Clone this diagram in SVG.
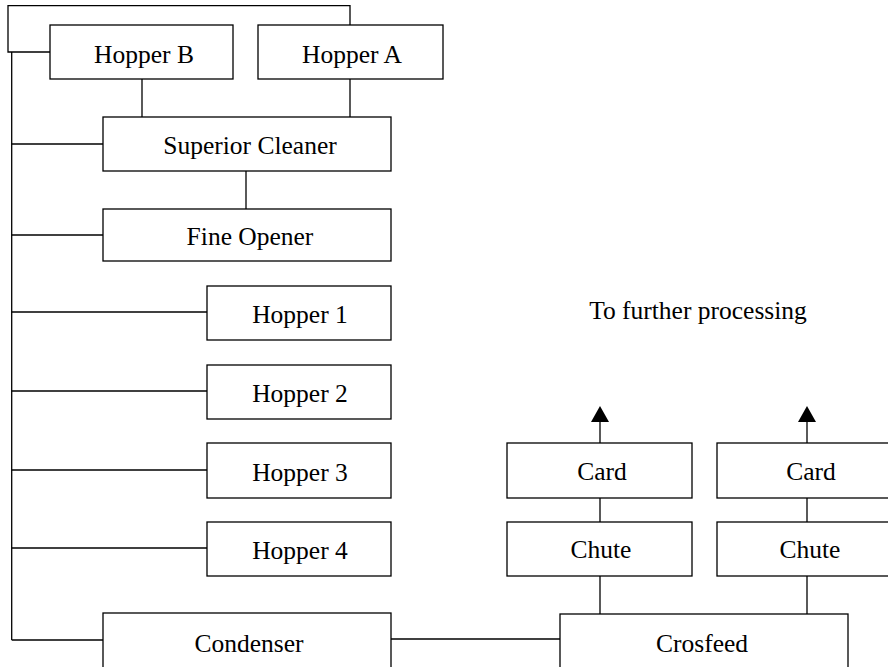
<svg xmlns="http://www.w3.org/2000/svg" width="888" height="667" viewBox="0 0 888 667">
<style>
.box{fill:#fff;stroke:#000;stroke-width:1.3}
.ln{fill:none;stroke:#000;stroke-width:1.3}
text{font-family:"Liberation Serif","Times New Roman",serif;font-size:25.5px;fill:#000;text-anchor:middle}
</style>
<g id="connectors">
<path class="ln" d="M50,52 H8 V5.7 H350 V25"/>
<path class="ln" d="M11.7,52 V640"/>
<path class="ln" d="M11.7,144 H103"/>
<path class="ln" d="M11.7,235 H103"/>
<path class="ln" d="M11.7,312 H207"/>
<path class="ln" d="M11.7,391 H207"/>
<path class="ln" d="M11.7,470 H207"/>
<path class="ln" d="M11.7,548 H207"/>
<path class="ln" d="M11.7,640 H103"/>
<path class="ln" d="M142,79 V117"/>
<path class="ln" d="M350,79 V117"/>
<path class="ln" d="M246,171 V209"/>
<path class="ln" d="M391,639 H560"/>
<path class="ln" d="M600,614 V576"/>
<path class="ln" d="M600,522 V498"/>
<path class="ln" d="M600,443 V422"/>
<path d="M591,422 L600,406 L609,422 Z" fill="#000"/>
<path class="ln" d="M807,614 V576"/>
<path class="ln" d="M807,522 V498"/>
<path class="ln" d="M807,443 V422"/>
<path d="M798,422 L807,406 L816,422 Z" fill="#000"/>
</g>
<g id="hopperB"><rect class="box" x="50" y="25" width="183" height="54"/><text x="144" y="63">Hopper B</text></g>
<g id="hopperA"><rect class="box" x="258" y="25" width="185" height="54"/><text x="352" y="63">Hopper A</text></g>
<g id="superior"><rect class="box" x="103" y="117" width="288" height="54"/><text x="250" y="154">Superior Cleaner</text></g>
<g id="fineOpener"><rect class="box" x="103" y="209" width="288" height="52"/><text x="250" y="245">Fine Opener</text></g>
<g id="hopper1"><rect class="box" x="207" y="286" width="184" height="54"/><text x="300" y="323">Hopper 1</text></g>
<g id="hopper2"><rect class="box" x="207" y="365" width="184" height="54"/><text x="300" y="402">Hopper 2</text></g>
<g id="hopper3"><rect class="box" x="207" y="443" width="184" height="55"/><text x="300" y="480.5">Hopper 3</text></g>
<g id="hopper4"><rect class="box" x="207" y="522" width="184" height="54"/><text x="300" y="558.5">Hopper 4</text></g>
<g id="condenser"><rect class="box" x="103" y="613" width="288" height="80"/><text x="249" y="651.5">Condenser</text></g>
<g id="crosfeed"><rect class="box" x="560" y="614" width="288" height="80"/><text x="702" y="651.5">Crosfeed</text></g>
<g id="card1"><rect class="box" x="507" y="443" width="185" height="55"/><text x="602" y="479.5">Card</text></g>
<g id="chute1"><rect class="box" x="507" y="522" width="185" height="54"/><text x="601" y="557.5">Chute</text></g>
<g id="card2"><rect class="box" x="717" y="443" width="185" height="55"/><text x="811" y="479.5">Card</text></g>
<g id="chute2"><rect class="box" x="717" y="522" width="185" height="54"/><text x="810" y="557.5">Chute</text></g>
<g id="label"><text x="698" y="318.5">To further processing</text></g>
</svg>
